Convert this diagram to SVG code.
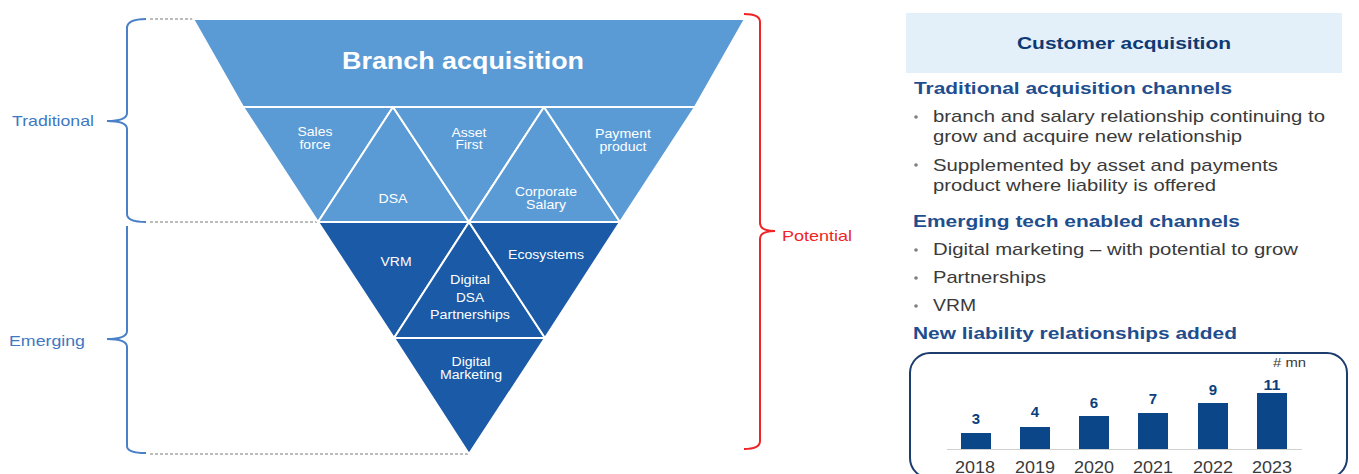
<svg xmlns="http://www.w3.org/2000/svg" width="1359" height="474" viewBox="0 0 1359 474">
  <style>
    .light { fill: #5B9BD5; stroke: #FFFFFF; stroke-width: 2; stroke-linejoin: round; }
    .dark { fill: #1A5AA6; stroke: #FFFFFF; stroke-width: 2; stroke-linejoin: round; }
    .lbl { font-family: "Liberation Sans", Arial, sans-serif; font-size: 12.5px; fill: #FFFFFF; text-anchor: middle; }
    .side { font-family: "Liberation Sans", Arial, sans-serif; font-size: 15px; fill: #3E78C2; }
    .guide { stroke: #A6A6A6; stroke-width: 1.3; stroke-dasharray: 3 2; fill: none; }
    .brace { fill: none; stroke: #4A80C8; stroke-width: 2; }
    .head { font-family: "Liberation Sans", Arial, sans-serif; font-weight: bold; font-size: 17px; fill: #1F4E8E; }
    .body { font-family: "Liberation Sans", Arial, sans-serif; font-size: 17px; fill: #3A3A3A; }
    .dot { fill: #7F7F7F; }
    .bar { fill: #0B4688; }
    .val { font-family: "Liberation Sans", Arial, sans-serif; font-weight: bold; font-size: 15px; fill: #0B3F7C; text-anchor: middle; }
    .year { font-family: "Liberation Sans", Arial, sans-serif; font-size: 16px; fill: #3A3A3A; text-anchor: middle; }
  </style>

  <!-- dotted guides from braces to the funnel -->
  <g id="connectors">
    <line class="guide" x1="150" y1="19" x2="193" y2="19"/>
    <line class="guide" x1="150" y1="222" x2="318" y2="222"/>
    <line class="guide" x1="150" y1="454" x2="468" y2="454"/>
  </g>

  <!-- left braces -->
  <g id="brace-traditional">
    <path class="brace" d="M146,19 Q127,19 127,28 L127,113 Q127,121 107,121 Q127,121 127,129 L127,214 Q127,222 146,222"/>
    <text class="side" x="12" y="126" textLength="82" lengthAdjust="spacingAndGlyphs">Traditional</text>
  </g>
  <g id="brace-emerging">
    <path class="brace" d="M127,226 L127,331 Q127,339 107,339 Q127,339 127,347 L127,446 Q127,453 146,453"/>
    <text class="side" x="9" y="346" textLength="76" lengthAdjust="spacingAndGlyphs">Emerging</text>
  </g>

  <!-- right brace -->
  <g id="brace-potential">
    <path d="M744,14 Q760,14 760,22 L760,223 Q760,231 775,231 Q760,231 760,239 L760,441 Q760,449 744,449" fill="none" stroke="#F02424" stroke-width="2"/>
    <text x="782" y="241" font-family="Liberation Sans, Arial, sans-serif" font-size="15" fill="#F02424" textLength="70" lengthAdjust="spacingAndGlyphs">Potential</text>
  </g>

  <!-- funnel: top band -->
  <g id="branch">
    <polygon class="light" points="193,19 745,19 695,107 243,107"/>
    <text x="463" y="69" font-family="Liberation Sans, Arial, sans-serif" font-weight="bold" font-size="24" fill="#FFFFFF" text-anchor="middle" textLength="242" lengthAdjust="spacingAndGlyphs">Branch acquisition</text>
  </g>

  <!-- funnel: traditional band -->
  <g id="sales-force">
    <polygon class="light" points="243,107 393,107 318,222"/>
    <text class="lbl" x="315" y="136" textLength="35" lengthAdjust="spacingAndGlyphs">Sales</text>
    <text class="lbl" x="315" y="149" textLength="31" lengthAdjust="spacingAndGlyphs">force</text>
  </g>
  <g id="dsa">
    <polygon class="light" points="393,107 469,222 318,222"/>
    <text class="lbl" x="393" y="203" textLength="29" lengthAdjust="spacingAndGlyphs">DSA</text>
  </g>
  <g id="asset-first">
    <polygon class="light" points="393,107 544,107 469,222"/>
    <text class="lbl" x="469" y="137" textLength="35" lengthAdjust="spacingAndGlyphs">Asset</text>
    <text class="lbl" x="469" y="149" textLength="27" lengthAdjust="spacingAndGlyphs">First</text>
  </g>
  <g id="corporate-salary">
    <polygon class="light" points="544,107 620,222 469,222"/>
    <text class="lbl" x="546" y="196" textLength="62" lengthAdjust="spacingAndGlyphs">Corporate</text>
    <text class="lbl" x="546" y="209" textLength="40" lengthAdjust="spacingAndGlyphs">Salary</text>
  </g>
  <g id="payment-product">
    <polygon class="light" points="544,107 695,107 620,222"/>
    <text class="lbl" x="623" y="138" textLength="56" lengthAdjust="spacingAndGlyphs">Payment</text>
    <text class="lbl" x="623" y="151" textLength="47" lengthAdjust="spacingAndGlyphs">product</text>
  </g>

  <!-- funnel: emerging band -->
  <g id="vrm">
    <polygon class="dark" points="318,222 469,222 394,338"/>
    <text class="lbl" x="396" y="266" textLength="31" lengthAdjust="spacingAndGlyphs">VRM</text>
  </g>
  <g id="digital-dsa">
    <polygon class="dark" points="469,222 545,338 394,338"/>
    <text class="lbl" x="470" y="284" textLength="40" lengthAdjust="spacingAndGlyphs">Digital</text>
    <text class="lbl" x="470" y="302" textLength="28" lengthAdjust="spacingAndGlyphs">DSA</text>
    <text class="lbl" x="470" y="319" textLength="80" lengthAdjust="spacingAndGlyphs">Partnerships</text>
  </g>
  <g id="ecosystems">
    <polygon class="dark" points="469,222 620,222 545,338"/>
    <text class="lbl" x="546" y="259" textLength="76" lengthAdjust="spacingAndGlyphs">Ecosystems</text>
  </g>
  <g id="digital-marketing">
    <polygon class="dark" points="394,338 545,338 469,454"/>
    <text class="lbl" x="471" y="366" textLength="39" lengthAdjust="spacingAndGlyphs">Digital</text>
    <text class="lbl" x="471" y="379" textLength="62" lengthAdjust="spacingAndGlyphs">Marketing</text>
  </g>

  <!-- right panel -->
  <g id="panel-title">
    <rect x="906" y="13" width="436" height="60" fill="#E3EFF9"/>
    <text x="1124" y="49" font-family="Liberation Sans, Arial, sans-serif" font-weight="bold" font-size="16" fill="#0E3A73" text-anchor="middle" textLength="214" lengthAdjust="spacingAndGlyphs">Customer acquisition</text>
  </g>

  <g id="traditional-channels">
    <text class="head" x="914" y="94" textLength="318" lengthAdjust="spacingAndGlyphs">Traditional acquisition channels</text>
    <circle class="dot" cx="916" cy="117" r="1.8"/>
    <text class="body" x="933" y="122" textLength="392" lengthAdjust="spacingAndGlyphs">branch and salary relationship continuing to</text>
    <text class="body" x="933" y="142" textLength="309" lengthAdjust="spacingAndGlyphs">grow and acquire new relationship</text>
    <circle class="dot" cx="916" cy="165" r="1.8"/>
    <text class="body" x="933" y="171" textLength="345" lengthAdjust="spacingAndGlyphs">Supplemented by asset and payments</text>
    <text class="body" x="933" y="191" textLength="283" lengthAdjust="spacingAndGlyphs">product where liability is offered</text>
  </g>

  <g id="emerging-channels">
    <text class="head" x="913" y="227" textLength="327" lengthAdjust="spacingAndGlyphs">Emerging tech enabled channels</text>
    <circle class="dot" cx="916" cy="250" r="1.8"/>
    <text class="body" x="933" y="255" textLength="365" lengthAdjust="spacingAndGlyphs">Digital marketing – with potential to grow</text>
    <circle class="dot" cx="916" cy="278" r="1.8"/>
    <text class="body" x="933" y="283" textLength="113" lengthAdjust="spacingAndGlyphs">Partnerships</text>
    <circle class="dot" cx="916" cy="306" r="1.8"/>
    <text class="body" x="933" y="311" textLength="43" lengthAdjust="spacingAndGlyphs">VRM</text>
  </g>

  <g id="liability-chart">
    <text class="head" x="913" y="339" textLength="324" lengthAdjust="spacingAndGlyphs">New liability relationships added</text>
    <rect x="910" y="353" width="437" height="125" rx="20" ry="20" fill="none" stroke="#1D3C6E" stroke-width="2"/>
    <text x="1273" y="367" font-family="Liberation Sans, Arial, sans-serif" font-size="12" fill="#3A3A3A" textLength="33" lengthAdjust="spacingAndGlyphs"># mn</text>
    <line x1="947" y1="449.5" x2="1302" y2="449.5" stroke="#D0D0D0" stroke-width="1"/>
    <rect class="bar" x="961" y="433" width="30" height="16"/>
    <rect class="bar" x="1020" y="427" width="30" height="22"/>
    <rect class="bar" x="1079" y="416" width="30" height="33"/>
    <rect class="bar" x="1138" y="413" width="30" height="36"/>
    <rect class="bar" x="1198" y="403" width="30" height="46"/>
    <rect class="bar" x="1257" y="393" width="30" height="56"/>
    <text class="val" x="976" y="424">3</text>
    <text class="val" x="1035" y="417">4</text>
    <text class="val" x="1094" y="408">6</text>
    <text class="val" x="1153" y="404">7</text>
    <text class="val" x="1213" y="395">9</text>
    <text class="val" x="1272" y="390" textLength="17" lengthAdjust="spacingAndGlyphs">11</text>
    <text class="year" x="975" y="473" textLength="40" lengthAdjust="spacingAndGlyphs">2018</text>
    <text class="year" x="1035" y="473" textLength="40" lengthAdjust="spacingAndGlyphs">2019</text>
    <text class="year" x="1094" y="473" textLength="40" lengthAdjust="spacingAndGlyphs">2020</text>
    <text class="year" x="1153" y="473" textLength="40" lengthAdjust="spacingAndGlyphs">2021</text>
    <text class="year" x="1213" y="473" textLength="40" lengthAdjust="spacingAndGlyphs">2022</text>
    <text class="year" x="1272" y="473" textLength="40" lengthAdjust="spacingAndGlyphs">2023</text>
  </g>
</svg>
